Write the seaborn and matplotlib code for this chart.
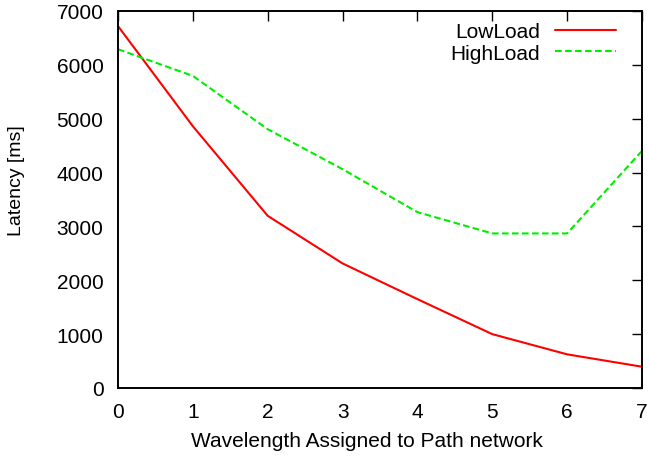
import matplotlib
matplotlib.use("Agg")
import matplotlib.pyplot as plt
import seaborn as sns
import pandas as pd

wavelengths = [0, 1, 2, 3, 4, 5, 6, 7]
low_load = [6720, 4860, 3197, 2313, 1650, 1000, 625, 395]
high_load = [6290, 5795, 4805, 4063, 3265, 2870, 2870, 4403]

sns.set_theme(style="white")
plt.rcParams['font.family'] = ['Liberation Sans', 'DejaVu Sans']
plt.rcParams['text.color'] = 'black'
plt.rcParams['axes.labelcolor'] = 'black'

df = pd.DataFrame({"x": wavelengths * 2,
                   "y": low_load + high_load,
                   "series": ["LowLoad"] * len(wavelengths) + ["HighLoad"] * len(wavelengths)})

W, H = 649, 460
fig = plt.figure(figsize=(W / 100, H / 100), dpi=100)
ax = fig.add_axes([118 / W, 1 - 389 / H, (642 - 118) / W, (389 - 12) / H])

sns.lineplot(data=df, x="x", y="y", hue="series", style="series",
             palette={"LowLoad": "#ff0000", "HighLoad": "#00ee00"},
             dashes={"LowLoad": "", "HighLoad": (3.2, 1.6)},
             linewidth=1.5, ax=ax)

ax.set_xlim(0, 7)
ax.set_ylim(0, 7000)
ax.set_xticks(range(0, 8))
ax.set_yticks(range(0, 7001, 1000))
ax.tick_params(direction="in", length=7, width=1, top=True, right=True,
               labelsize=15, colors="black", labelcolor="black")
ax.tick_params(axis="x", pad=10)
ax.tick_params(axis="y", pad=10.5)
for s in ax.spines.values():
    s.set_color("black")
    s.set_linewidth(1.4)

ax.set_xlabel("Wavelength Assigned to Path network", fontsize=15, va="center", color="black")
ax.xaxis.set_label_coords((366.5 - 118) / 524, (389 - 442) / 377)
ax.set_ylabel("Latency [ms]", fontsize=14, va="center", color="black")
ax.yaxis.set_label_coords((17 - 118) / 524, (389 - 181) / 377)

h, l = ax.get_legend_handles_labels()
leg = ax.legend(h, l, loc="upper right", frameon=False, markerfirst=False,
                fontsize=15, handlelength=2.93, borderaxespad=0, borderpad=0,
                labelspacing=0.12, handletextpad=0.72,
                bbox_to_anchor=(616 / W, 1 - 23 / H),
                bbox_transform=fig.transFigure)
for t in leg.get_texts():
    t.set_ha("right")
    t.set_color("black")

fig.savefig("out.png", dpi=100)
